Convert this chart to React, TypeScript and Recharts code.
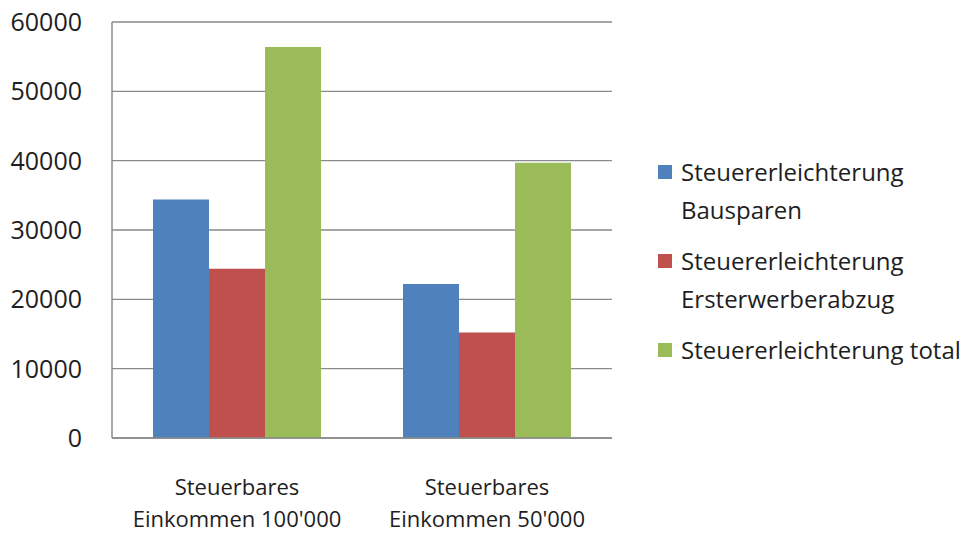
import React from 'react';
import { BarChart, Bar, XAxis, YAxis, CartesianGrid } from 'recharts';

const categories = ["Steuerbares\nEinkommen 100'000", "Steuerbares\nEinkommen 50'000"];
const bauspareValues = [34400, 22200];
const ersterwerbValues = [24400, 15200];
const totalValues = [56400, 39700];
const yTicks = [0, 10000, 20000, 30000, 40000, 50000, 60000];

const seriesInfo = [
  { key: 'bausparen', label: ['Steuererleichterung', 'Bausparen'], color: '#4F81BD' },
  { key: 'ersterwerb', label: ['Steuererleichterung', 'Ersterwerberabzug'], color: '#C0504D' },
  { key: 'total', label: ['Steuererleichterung total'], color: '#9BBB59' },
];

const data = categories.map((name, i) => ({
  name,
  bausparen: bauspareValues[i],
  ersterwerb: ersterwerbValues[i],
  total: totalValues[i],
}));

const FONT = '"Open Sans", sans-serif';
const TEXT = '#1e1e1e';
const GRID = '#8a8a8a';

const CategoryTick = (props: any) => {
  const { x, y, payload } = props;
  const lines = String(payload.value).split('\n');
  return (
    <g>
      {lines.map((line, i) => (
        <text key={i} x={x} y={y + 55 + i * 32} textAnchor="middle" fill={TEXT} fontSize={22} fontFamily={FONT}>
          {line}
        </text>
      ))}
    </g>
  );
};

const LegendBox = () => (
  <div style={{ position: 'absolute', left: 658, top: 153, fontFamily: FONT, fontSize: 24, color: TEXT }}>
    {seriesInfo.map((s) => (
      <div key={s.key} style={{ display: 'flex', alignItems: 'flex-start', marginBottom: 13 }}>
        <div style={{ width: 14, height: 14, background: s.color, marginTop: 12, marginRight: 9, flexShrink: 0 }} />
        <div style={{ lineHeight: '38px', whiteSpace: 'nowrap' }}>
          {s.label.map((l, i) => (
            <div key={i}>{l}</div>
          ))}
        </div>
      </div>
    ))}
  </div>
);

export default function App() {
  return (
    <div style={{ position: 'absolute', left: 0, top: 0, width: 972, height: 534, background: '#fff' }}>
      <BarChart
        width={972}
        height={534}
        data={data}
        margin={{ top: 22, right: 360, bottom: 0, left: 0 }}
        barCategoryGap={41}
        barGap={0}
      >
        <CartesianGrid vertical={false} stroke={GRID} strokeWidth={1.3} />
        <XAxis
          dataKey="name"
          height={96}
          tickLine={false}
          tickSize={0}
          axisLine={{ stroke: GRID, strokeWidth: 1.5 }}
          tick={<CategoryTick />}
          interval={0}
        />
        <YAxis
          width={112}
          domain={[0, 60000]}
          ticks={yTicks}
          tickLine={false}
          tickSize={0}
          tickMargin={30}
          axisLine={{ stroke: GRID, strokeWidth: 1.5 }}
          tick={{ fill: TEXT, fontSize: 25, fontFamily: FONT }}
        />
        {seriesInfo.map((s) => (
          <Bar key={s.key} dataKey={s.key} fill={s.color} isAnimationActive={false} />
        ))}
      </BarChart>
      <LegendBox />
    </div>
  );
}
